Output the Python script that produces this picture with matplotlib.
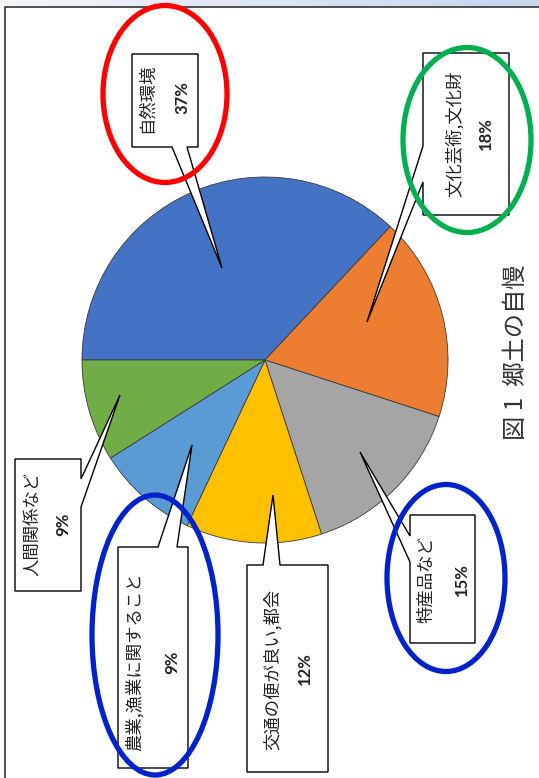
import numpy as np
import matplotlib
matplotlib.use('Agg')
import matplotlib.pyplot as plt
from matplotlib.patches import Polygon, Ellipse

plt.rcParams['font.family'] = ['Noto Sans CJK JP', 'DejaVu Sans']

# 郷土の自慢 (図1) - 画像は90度回転した状態
categories = ['自然環境', '文化芸術,文化財', '特産品など',
              '交通の便が良い,都会', '農業,漁業に関すること', '人間関係など']
values = [37, 18, 15, 12, 9, 9]
pct_labels = ['37%', '18%', '15%', '12%', '9%', '9%']
colors = ['#4472C4', '#ED7D31', '#A5A5A5', '#FFC000', '#5B9BD5', '#70AD47']
title = '図 1  郷土の自慢'

W, H = 539, 778
fig = plt.figure(figsize=(W / 100, H / 100), dpi=100)
ax = fig.add_axes([0, 0, 1, 1])

# y軸を下向きにしてピクセル座標で扱う -> counterclock=True で画面上は時計回り
ax.pie(values, colors=colors, startangle=180, counterclock=True,
       center=(265, 360), radius=183,
       wedgeprops=dict(edgecolor='#3a3a3a', linewidth=0.6))

ax.set_xlim(0, W)
ax.set_ylim(H, 0)
ax.set_aspect('equal')
ax.axis('off')

# 上部のグラデーション帯と枠線
grad = np.linspace(0, 1, 256)[None, :]
cmap = matplotlib.colors.LinearSegmentedColormap.from_list('g', ['#f4f6fb', '#c5d5ee'])
ax.imshow(grad, cmap=cmap, extent=[0, W, 7, 0], aspect='auto', zorder=0)
ax.plot([5, 5, W], [H, 7, 7], color='#333333', lw=1.2, zorder=1)


def callout(x0, y0, x1, y1, side, b0, b1, tip):
    # 吹き出し: 長方形 + 一辺からの三角形
    if side == 'bottom':
        pts = [(x0, y0), (x1, y0), (x1, y1), (b1, y1), tip, (b0, y1), (x0, y1)]
    elif side == 'top':
        pts = [(x0, y0), (b0, y0), tip, (b1, y0), (x1, y0), (x1, y1), (x0, y1)]
    elif side == 'left':
        pts = [(x0, y0), (x1, y0), (x1, y1), (x0, y1), (x0, b1), tip, (x0, b0)]
    else:  # right
        pts = [(x0, y0), (x1, y0), (x1, b0), tip, (x1, b1), (x1, y1), (x0, y1)]
    ax.add_patch(Polygon(pts, closed=True, facecolor='white',
                         edgecolor='black', lw=1.0, zorder=3))


boxes = [
    (132, 54, 198, 147, 'bottom', 172, 187, (222, 268)),
    (423, 53, 509, 215, 'left', 146, 182, (367, 322)),
    (410, 515, 475, 643, 'left', 536, 562, (360, 452)),
    (247, 565, 328, 772, 'top', 263, 280, (273, 495)),
    (118, 547, 188, 768, 'top', 158, 177, (192, 445)),
    (15, 459, 81, 591, 'right', 479, 507, (120, 395)),
]
# 各ラベルの位置 (項目名x, 割合x, 中心y)
text_pos = [
    (147, 182, 98),
    (455, 486, 134),
    (426, 462, 580),
    (273, 305, 669),
    (135, 172, 662),
    (33, 63, 524),
]

for box, (xc, xp, yc), cat, pct in zip(boxes, text_pos, categories, pct_labels):
    callout(*box)
    ax.text(xc, yc, cat, rotation=90, ha='center', va='center',
            fontsize=12.5, color='#222222', zorder=4)
    ax.text(xp, yc, pct, rotation=90, ha='center', va='center',
            fontsize=12, fontweight='bold', family=['Lato', 'DejaVu Sans'],
            color='#222222', zorder=4)

# 強調の楕円
ellipses = [
    ((165, 94), 124, 177, '#FF0000'),
    ((467, 140), 128, 185, '#00B050'),
    ((446, 578), 118, 187, '#0022CC'),
    ((155, 635), 126, 280, '#0022CC'),
]
for c, w, h, col in ellipses:
    ax.add_patch(Ellipse(c, w, h, fill=False, edgecolor=col, lw=3.8, zorder=5))

ax.text(516, 352, title, rotation=90, ha='center', va='center',
        fontsize=17.5, color='#333333', zorder=4)

fig.savefig('out.png', dpi=100)
